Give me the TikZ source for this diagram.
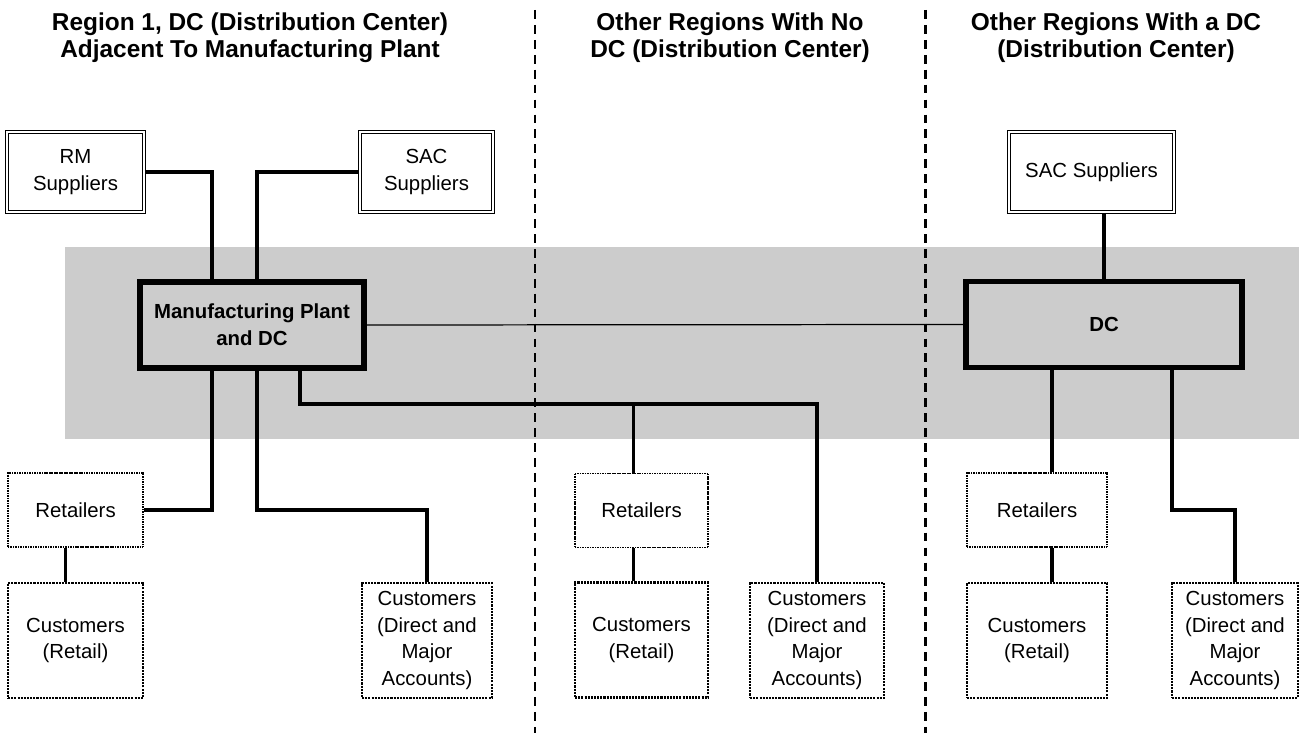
\documentclass[tikz,border=0pt]{standalone}
\usepackage{fontspec}
\setmainfont{Liberation Sans}
\begin{document}
\begin{tikzpicture}[x=0.02cm, y=-0.02cm,
  supplier/.style={draw, double, double distance=0.8pt, line width=0.9pt, fill=white, inner sep=1pt, align=center, minimum height=1.6cm, font=\fontsize{11.6}{15.2}\selectfont},
  hub/.style={draw, line width=2.9pt, fill=black!20, inner sep=1pt, align=center, minimum height=1.72cm, font=\bfseries\fontsize{11.6}{15.2}\selectfont},
  retailer/.style={draw, dash pattern=on 0.6pt off 0.35pt, line width=1.1pt, fill=white, inner sep=1pt, align=center, minimum height=1.48cm, font=\fontsize{11.6}{15.2}\selectfont},
  customer/.style={draw, dash pattern=on 1.2pt off 0.6pt, line width=1.4pt, fill=white, inner sep=1pt, align=center, minimum height=2.3cm, font=\fontsize{11.6}{15.2}\selectfont},
  link/.style={line width=1.8pt},
  region/.style={align=center, font=\bfseries\fontsize{13.9}{15.4}\selectfont},
  border/.style={dash pattern=on 5pt off 3.5pt, line width=1.7pt}]
%\draw[help lines,step=50] (0,0) grid (1299,733);
\useasboundingbox (0,0) rectangle (1299,733);
\fill [black!20] (65,247) rectangle (1299,439);
\draw [border] (535,10) -- (535,733);
\draw [border] (925,10) -- (925,733);

\node [region] (title1) at (250,38) {Region 1, DC (Distribution Center)\\Adjacent To Manufacturing Plant};
\node [region] (title2) at (730,38) {Other Regions With No\\DC (Distribution Center)};
\node [region] (title3) at (1116,38) {Other Regions With a DC\\(Distribution Center)};

% region 1
\node [supplier, minimum width=2.74cm] (rm) at (75.5,172) {RM\\Suppliers};
\node [supplier, minimum width=2.66cm] (sacl) at (426.5,172) {SAC\\Suppliers};
\node [hub, minimum width=4.48cm] (plant) at (252,325) {Manufacturing Plant\\and DC};
\node [retailer, minimum width=2.7cm] (retl) at (75.5,510) {Retailers};
\node [customer, minimum width=2.7cm] (custl) at (75.5,640.5) {Customers\\(Retail)};
\node [customer, minimum width=2.6cm] (dirl) at (427,640.5) {Customers\\(Direct and\\Major\\Accounts)};

% region 2
\node [retailer, minimum width=2.66cm] (retm) at (641.5,510.5) {Retailers};
\node [customer, minimum width=2.66cm] (custm) at (641.5,640) {Customers\\(Retail)};
\node [customer, minimum width=2.68cm] (dirm) at (817,640.5) {Customers\\(Direct and\\Major\\Accounts)};
\coordinate (busm) at (817,404);

% region 3
\node [supplier, minimum width=3.3cm] (sacr) at (1091.5,172) {SAC Suppliers};
\node [hub, minimum width=5.52cm] (dc) at (1104,324.5) {DC};
\node [retailer, minimum width=2.8cm] (retr) at (1037,510) {Retailers};
\node [customer, minimum width=2.8cm] (custr) at (1037,640.5) {Customers\\(Retail)};
\node [customer, minimum width=2.52cm] (dirr) at (1235,640.5) {Customers\\(Direct and\\Major\\Accounts)};

\draw [link] (rm.east) -| ([xshift=-0.8cm]plant.north);
\draw [link] (sacl.west) -| ([xshift=0.1cm]plant.north);
\draw [link] ([xshift=-0.8cm]plant.south) |- (retl.east);
\draw [link] ([xshift=0.1cm]plant.south) |- (retl.east -| dirl.north) -- (dirl.north);
\draw [link] ([xshift=-0.2cm]retl.south) -- ([xshift=-0.2cm]custl.north);
\draw [link] ([xshift=0.96cm]plant.south) |- (busm) -- (dirm.north);
\draw [link] ([xshift=-0.16cm]retm.north) -- ([xshift=-0.16cm]retm.north |- busm);
\draw [link] ([xshift=-0.16cm]retm.south) -- ([xshift=-0.16cm]custm.north);
\draw [line width=0.7pt] (plant.east) -- (dc.west);
\draw [link] (dc.north) -- (dc.north |- sacr.south);
\draw [link] ([xshift=0.3cm]retr.north) -- ([xshift=0.3cm]retr.north |- dc.south);
\draw [link] ([xshift=0.3cm]retr.south) -- ([xshift=0.3cm]custr.north);
\draw [link] ([xshift=1.36cm]dc.south) |- (retr.east -| dirr.north) -- (dirr.north);
\end{tikzpicture}
\end{document}
